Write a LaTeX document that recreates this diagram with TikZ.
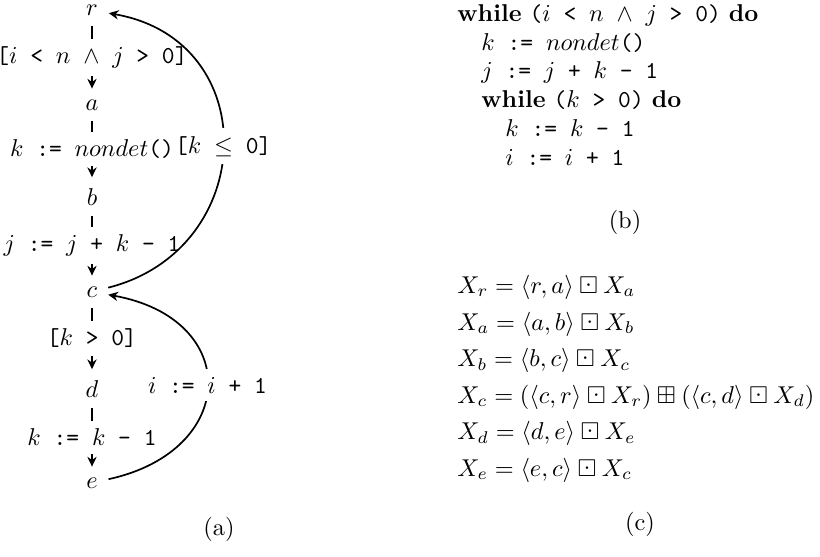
\documentclass[tikz,border=0pt]{standalone}
\usepackage{amsmath,amssymb}
\usetikzlibrary{arrows.meta}
\begin{document}
\begin{tikzpicture}[x=0.411pt,y=-0.411pt,
  st/.style={inner sep=3pt,outer sep=1.5pt,anchor=base},
  lbl/.style={fill=white,inner xsep=1pt,inner ysep=3.2pt},
  arr/.style={line width=0.7pt,-{Stealth[length=4pt,width=3.8pt]}},
  txt/.style={inner sep=0pt,anchor=base west}]
\useasboundingbox (0,0) rectangle (820,557);
% (a) control-flow graph
\node[st] (r) at (92,15.5) {$r$};
\node[st] (a) at (92,110) {$a$};
\node[st] (b) at (92,205) {$b$};
\node[st] (c) at (92,297) {$c$};
\node[st] (d) at (92,397) {$d$};
\node[st] (e) at (92,488) {$e$};
\draw[arr] (r) -- (a) node[midway,lbl] {\texttt{[$i$ < $n$ $\wedge$ $j$ > 0]}};
\draw[arr] (a) -- (b) node[midway,lbl] {\texttt{$k$ := $nondet$()}};
\draw[arr] (b) -- (c) node[midway,lbl] {\texttt{$j$ := $j$ + $k$ - 1}};
\draw[arr] (c) -- (d) node[midway,lbl] {\texttt{[$k$ > 0]}};
\draw[arr] (d) -- (e) node[midway,lbl] {\texttt{$k$ := $k$ - 1}};
\draw[arr] (c) .. controls +(166,-42) and +(173,30) .. (r)
  node[midway,lbl] {\texttt{[$k$ $\leq$ 0]}};
\draw[arr] (e) .. controls +(147,-32) and +(150,27) .. (c)
  node[midway,lbl] {\texttt{$i$ := $i$ + 1}};
\node[inner sep=0pt,anchor=base] (capa) at (219,535) {(a)};
% (b) program
\node[txt] (p1) at (457,21.5) {\textbf{while} \texttt{($i$ < $n$ $\wedge$ $j$ > 0)} \textbf{do}};
\node[txt] (p2) at (481,50) {\texttt{$k$ := $nondet$()}};
\node[txt] (p3) at (481,78.5) {\texttt{$j$ := $j$ + $k$ - 1}};
\node[txt] (p4) at (481,107) {\textbf{while} \texttt{($k$ > 0)} \textbf{do}};
\node[txt] (p5) at (505,136) {\texttt{$k$ := $k$ - 1}};
\node[txt] (p6) at (505,165) {\texttt{$i$ := $i$ + 1}};
\node[inner sep=0pt,anchor=base] (capb) at (625,228) {(b)};
% (c) equations
\node[txt] (e1) at (457,293) {$X_r = \langle r,a\rangle \boxdot X_a$};
\node[txt] (e2) at (457,330) {$X_a = \langle a,b\rangle \boxdot X_b$};
\node[txt] (e3) at (457,366.5) {$X_b = \langle b,c\rangle \boxdot X_c$};
\node[txt] (e4) at (457,403) {$X_c = (\langle c,r\rangle \boxdot X_r) \boxplus (\langle c,d\rangle \boxdot X_d)$};
\node[txt] (e5) at (457,439.5) {$X_d = \langle d,e\rangle \boxdot X_e$};
\node[txt] (e6) at (457,476) {$X_e = \langle e,c\rangle \boxdot X_c$};
\node[inner sep=0pt,anchor=base] (capc) at (640,530) {(c)};
\end{tikzpicture}
\end{document}
